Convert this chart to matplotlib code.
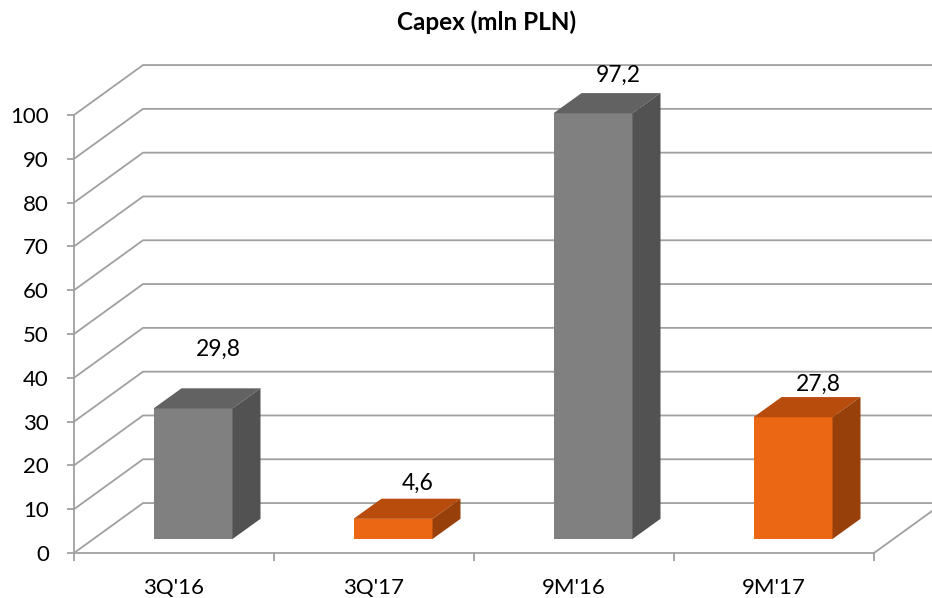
import matplotlib.pyplot as plt
from matplotlib.patches import Polygon

categories = ["3Q'16", "3Q'17", "9M'16", "9M'17"]
values = [29.8, 4.6, 97.2, 27.8]
labels = ["29,8", "4,6", "97,2", "27,8"]
yticks = list(range(0, 101, 10))

plt.rcParams['font.family'] = ['Lato', 'DejaVu Sans']

# colours: front, top, side
gray = ("#808080", "#626262", "#525252")
orange = ("#EC6714", "#B84C0C", "#98400A")
bar_colors = [gray, orange, gray, orange]
grid_c = "#A0A0A0"

# 3d fake: wall depth, bar offset in depth and bar depth (data units)
wall_dx, wall_dy = 0.345, 11.4
off_dx, off_dy = 0.095, 3.2
bar_dx, bar_dy = 0.14, 4.6
bar_w = 0.395
label_lift = [6.6, 1.2, 1.6, 0.6]

fig = plt.figure(figsize=(9.32, 5.98), dpi=100)
ax = fig.add_axes([74 / 932, 45 / 598, 800 / 932, 438 / 598])
ax.set_xlim(0, 4)
ax.set_ylim(0, 100)
n = len(categories)

# walls: left side diagonals + back wall horizontals
for y in yticks:
    ax.plot([0, wall_dx, n + wall_dx], [y, y + wall_dy, y + wall_dy],
            color=grid_c, lw=1.3, clip_on=False, zorder=1)
# floor right edge
ax.plot([n, n + wall_dx], [0, wall_dy], color=grid_c, lw=1.3,
        clip_on=False, zorder=1)

xs = [i + 0.5 + off_dx for i in range(n)]
bars = ax.bar(xs, values, bottom=off_dy, width=bar_w,
              color=[c[0] for c in bar_colors], zorder=3)
for b in bars:
    b.set_clip_on(False)
for x, v, c, lab, lift in zip(xs, values, bar_colors, labels, label_lift):
    x0, x1 = x - bar_w / 2, x + bar_w / 2
    y0, y1 = off_dy, off_dy + v
    top = Polygon([(x0, y1), (x1, y1), (x1 + bar_dx, y1 + bar_dy),
                   (x0 + bar_dx, y1 + bar_dy)], closed=True,
                  facecolor=c[1], edgecolor='none', zorder=3, clip_on=False)
    side = Polygon([(x1, y0), (x1 + bar_dx, y0 + bar_dy),
                    (x1 + bar_dx, y1 + bar_dy), (x1, y1)], closed=True,
                   facecolor=c[2], edgecolor='none', zorder=3, clip_on=False)
    ax.add_patch(top)
    ax.add_patch(side)
    ax.text(x + bar_dx - 0.015, y1 + bar_dy + lift, lab, ha='center',
            va='bottom', fontsize=16.5, clip_on=False)

for s in ['top', 'right']:
    ax.spines[s].set_visible(False)
for s in ['left', 'bottom']:
    ax.spines[s].set_color(grid_c)
    ax.spines[s].set_linewidth(1.3)

ax.set_yticks(yticks)
ax.set_xticks(range(n + 1))
ax.set_xticklabels([])
ax.set_xticks([i + 0.5 for i in range(n)], minor=True)
ax.set_xticklabels(categories, minor=True)
ax.tick_params(axis='x', which='minor', length=0, pad=18, labelsize=16)
ax.tick_params(axis='x', which='major', length=6, color=grid_c, width=1.3)
ax.tick_params(axis='y', length=5, color=grid_c, width=1.3, pad=13,
               labelsize=16)
ax.patch.set_alpha(0)

fig.text(487 / 932, 1 - 22 / 598, "Capex (mln PLN)", ha='center',
         va='center', fontsize=17.5, fontweight='bold')

fig.savefig("out.png", dpi=100)
